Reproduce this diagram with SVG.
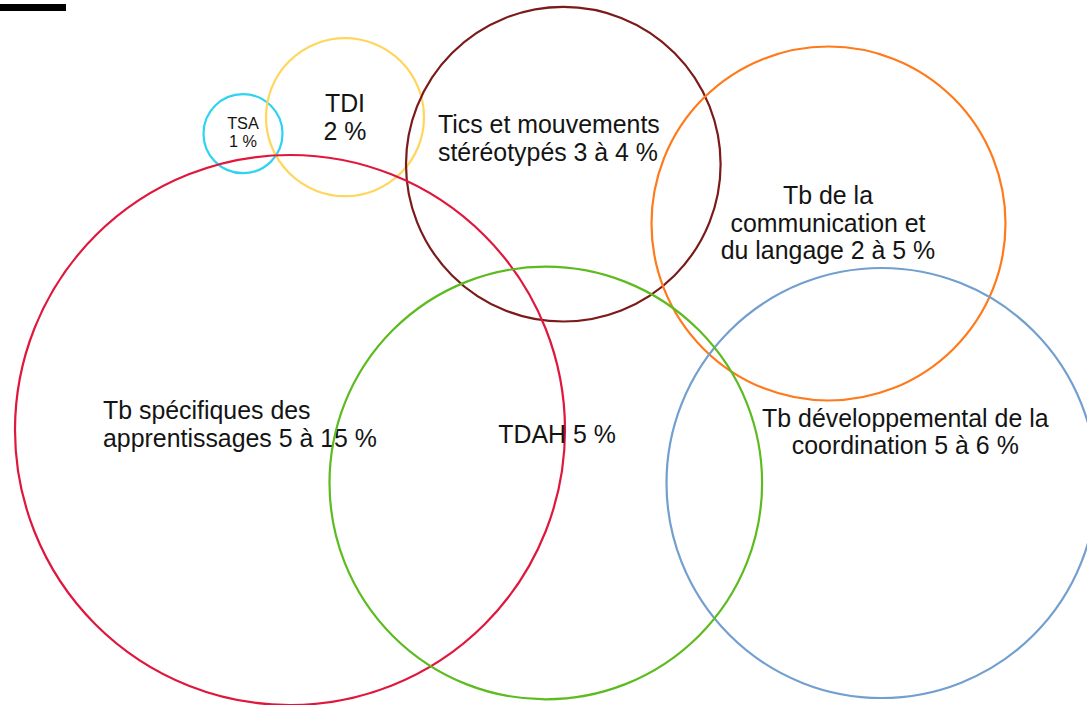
<svg xmlns="http://www.w3.org/2000/svg" width="1087" height="705" viewBox="0 0 1087 705">
<style>
.c{fill:none;stroke-width:2.2}
.t{font-family:"Liberation Sans",Arial,sans-serif;font-size:24.9px;fill:#141414}
.s{font-size:16.3px}
.m{text-anchor:middle}
</style>
<rect width="1087" height="705" fill="#fff"/>
<rect x="0" y="4" width="66" height="7" fill="#000"/>
<g id="tsa"><circle class="c" cx="243" cy="133.7" r="39.5" stroke="#2fd3f2"/>
<text class="t s m" x="243" y="129.3">TSA</text><text class="t s m" x="243" y="147.3">1 %</text></g>
<g id="tdi"><circle class="c" cx="345" cy="117.2" r="79" stroke="#ffd65c"/>
<text class="t m" x="345" y="111.7">TDI</text><text class="t m" x="345" y="140">2 %</text></g>
<g id="tics"><circle class="c" cx="563.3" cy="164.2" r="157.3" stroke="#7b1a1a"/>
<text class="t" x="438" y="132.7">Tics et mouvements</text><text class="t" x="438" y="160.5">stéréotypés 3 à 4 %</text></g>
<g id="comm"><circle class="c" cx="828.5" cy="223.5" r="177" stroke="#ff7a1c"/>
<text class="t m" x="828" y="204">Tb de la</text><text class="t m" x="828" y="231.5">communication et</text><text class="t m" x="828" y="259.3">du langage 2 à 5 %</text></g>
<g id="coord"><circle class="c" cx="881.5" cy="483" r="215" stroke="#729fcf"/>
<text class="t m" x="905.3" y="426.7">Tb développemental de la</text><text class="t m" x="905.3" y="454.3">coordination 5 à 6 %</text></g>
<g id="apprent"><circle class="c" cx="290" cy="430" r="275" stroke="#e0173d"/>
<text class="t" x="103" y="419.3">Tb spécifiques des</text><text class="t" x="103" y="447.4">apprentissages 5 à 15 %</text></g>
<g id="tdah"><circle class="c" cx="545.8" cy="483" r="216.3" stroke="#5cbb1f"/>
<text class="t" x="498.3" y="442.7">TDAH 5 %</text></g>
<g id="connectors"></g>
</svg>
